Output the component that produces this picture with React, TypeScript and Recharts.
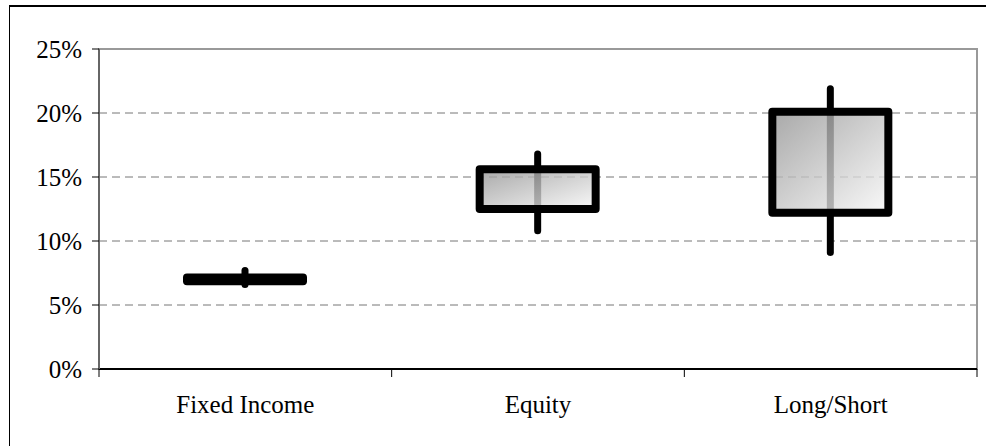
import React from "react";
import {
  ComposedChart,
  Bar,
  XAxis,
  YAxis,
  CartesianGrid,
  ReferenceLine,
  ReferenceArea,
} from "recharts";

const categories = ["Fixed Income", "Equity", "Long/Short"];
const lows = [0.066, 0.108, 0.091];
const q1s = [0.0685, 0.125, 0.122];
const q3s = [0.0715, 0.156, 0.201];
const highs = [0.077, 0.168, 0.219];
const yTicks = [0, 0.05, 0.1, 0.15, 0.2, 0.25];

const data = categories.map((name, i) => ({
  name,
  range: [lows[i], highs[i]],
  low: lows[i],
  q1: q1s[i],
  q3: q3s[i],
  high: highs[i],
}));

const FONT = "'Liberation Serif', 'Times New Roman', serif";
const FONT_SIZE = 25;
const X_TICK_MARGIN = 26;
const X_TICK_LEN = 8;
const textStyle: React.CSSProperties = { fontFamily: FONT, fontSize: FONT_SIZE, fill: "#000" };

const BoxShape = (props: any) => {
  const { x, y, width, height, payload } = props;
  const top = Math.min(y, y + height);
  const h = Math.abs(height);
  const ppu = h / (payload.high - payload.low);
  const yq3 = top + (payload.high - payload.q3) * ppu;
  const yq1 = top + (payload.high - payload.q1) * ppu;
  const cx = x + width / 2;
  return (
    <g>
      <line x1={cx} x2={cx} y1={top} y2={top + h} stroke="#000" strokeWidth={7} strokeLinecap="round" />
      <rect x={x} y={yq3} width={width} height={yq1 - yq3} fill="url(#boxGrad)" fillOpacity={0.8} stroke="none" />
      <rect
        x={x}
        y={yq3}
        width={width}
        height={yq1 - yq3}
        fill="none"
        stroke="#000"
        strokeWidth={8}
        strokeLinejoin="round"
      />
    </g>
  );
};

const XTick = (props: any) => {
  const { x, y, payload, width, visibleTicksCount, index } = props;
  let half = payload && typeof payload.offset === "number" && payload.offset > 0 ? payload.offset : 0;
  if (!half && width && visibleTicksCount) half = width / visibleTicksCount / 2;
  const axisY = y - X_TICK_MARGIN;
  return (
    <g>
      <line x1={x - half} x2={x - half} y1={axisY} y2={axisY + X_TICK_LEN} stroke="#000" strokeWidth={1} />
      {index === visibleTicksCount - 1 && (
        <line x1={x + half} x2={x + half} y1={axisY} y2={axisY + X_TICK_LEN} stroke="#000" strokeWidth={1} />
      )}
      <text x={x} y={y} dy="0.71em" textAnchor="middle" style={textStyle}>
        {payload.value}
      </text>
    </g>
  );
};

const YTick = (props: any) => {
  const { x, y, payload } = props;
  return (
    <text x={x} y={y} dy="0.355em" textAnchor="end" style={textStyle}>
      {`${Math.round(payload.value * 100)}%`}
    </text>
  );
};

export default function App() {
  return (
    <div
      style={{
        position: "absolute",
        left: 0,
        top: 0,
        width: 986,
        height: 446,
        overflow: "hidden",
        background: "#fff",
      }}
    >
      <div
        style={{
          position: "absolute",
          left: 9,
          top: 5,
          width: 990,
          height: 450,
          borderLeft: "1px solid #000",
          borderTop: "2px solid #000",
        }}
      />
      <div style={{ position: "absolute", left: 0, top: 0 }}>
        <ComposedChart width={986} height={446} data={data} margin={{ top: 49, right: 9, bottom: 0, left: 0 }}>
          <defs>
            <linearGradient id="boxGrad" x1="0" y1="0" x2="1" y2="1">
              <stop offset="0%" stopColor="#939393" />
              <stop offset="100%" stopColor="#f8f8f8" />
            </linearGradient>
          </defs>
          <CartesianGrid horizontal={true} vertical={false} stroke="#777" strokeDasharray="8 5" />
          <XAxis
            dataKey="name"
            type="category"
            height={77}
            tickSize={0}
            tickMargin={X_TICK_MARGIN}
            tickLine={false}
            axisLine={false}
            tick={<XTick />}
            interval={0}
          />
          <YAxis
            type="number"
            domain={[0, 0.25]}
            ticks={yTicks}
            width={99}
            tickSize={7}
            tickMargin={10}
            tick={<YTick />}
            tickLine={{ stroke: "#000", strokeWidth: 1 }}
            axisLine={{ stroke: "#666", strokeWidth: 2 }}
          />
          <ReferenceArea y1={0} y2={0.25} stroke="#999" strokeWidth={2} fill="none" fillOpacity={0} />
          <ReferenceLine y={0} stroke="#000" strokeWidth={2} />
          <Bar dataKey="range" barSize={116} shape={BoxShape} isAnimationActive={false} />
        </ComposedChart>
      </div>
    </div>
  );
}
